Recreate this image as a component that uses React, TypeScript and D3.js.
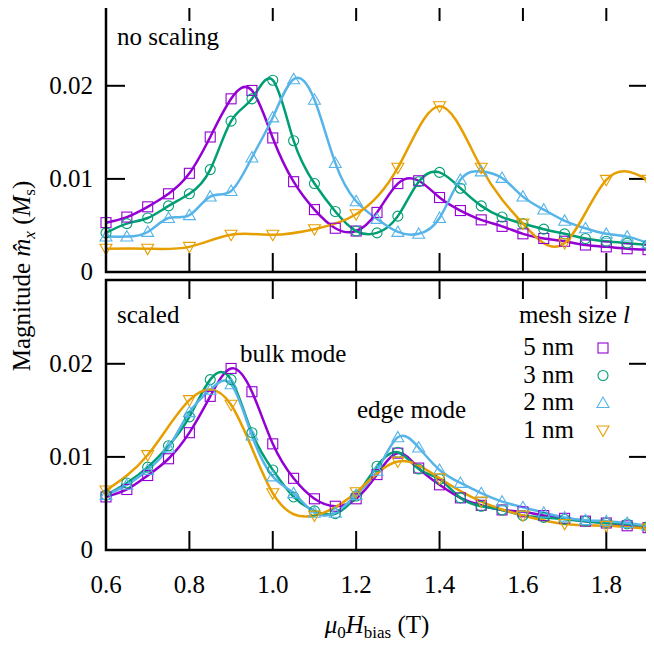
import React from "react";
import * as d3 from "d3";

// ---- data ----
const fieldDense = [0.6, 0.65, 0.7, 0.75, 0.8, 0.85, 0.9, 0.95, 1.0, 1.05, 1.1, 1.15, 1.2, 1.25, 1.3, 1.35, 1.4, 1.45, 1.5, 1.55, 1.6, 1.65, 1.7, 1.75, 1.8, 1.85, 1.9];
const fieldSparse = [0.6, 0.7, 0.8, 0.9, 1.0, 1.1, 1.2, 1.3, 1.4, 1.5, 1.6, 1.7, 1.8, 1.9];

// top panel: no scaling
const top5nm = [0.0053, 0.0059, 0.0070, 0.0084, 0.0106, 0.0145, 0.0186, 0.0195, 0.0144, 0.0097, 0.0067, 0.0047, 0.0044, 0.0064, 0.0095, 0.0098, 0.0080, 0.0066, 0.0056, 0.0049, 0.0041, 0.0036, 0.0033, 0.0029, 0.0027, 0.0025, 0.0024];
const top3nm = [0.0042, 0.0052, 0.0058, 0.0071, 0.0084, 0.0110, 0.0162, 0.0186, 0.0206, 0.0141, 0.0095, 0.0065, 0.0044, 0.0042, 0.0060, 0.0097, 0.0107, 0.0090, 0.0071, 0.0059, 0.0052, 0.0046, 0.0041, 0.0036, 0.0033, 0.0031, 0.0029];
const top2nm = [0.0038, 0.0038, 0.0043, 0.0058, 0.0061, 0.0081, 0.0087, 0.0123, 0.0166, 0.0207, 0.0185, 0.0117, 0.0076, 0.0057, 0.0043, 0.0041, 0.0058, 0.0099, 0.0108, 0.0101, 0.0081, 0.0067, 0.0055, 0.0047, 0.0041, 0.0038, 0.0031];
const top1nm = [0.0025, 0.0025, 0.0027, 0.0040, 0.0040, 0.0046, 0.0062, 0.0112, 0.0178, 0.0112, 0.0052, 0.0031, 0.0099, 0.0099];

// bottom panel: scaled
const bot5nm = [0.0057, 0.0065, 0.0080, 0.0098, 0.0126, 0.0165, 0.0195, 0.0170, 0.0114, 0.0077, 0.0055, 0.0047, 0.0055, 0.0081, 0.0104, 0.0088, 0.0070, 0.0056, 0.0048, 0.0043, 0.0041, 0.0037, 0.0034, 0.0031, 0.0029, 0.0026, 0.0024];
const bot3nm = [0.0059, 0.0072, 0.0089, 0.0112, 0.0143, 0.0183, 0.0183, 0.0126, 0.0086, 0.0057, 0.0042, 0.0039, 0.0058, 0.0090, 0.0105, 0.0087, 0.0076, 0.0056, 0.0047, 0.0043, 0.0037, 0.0035, 0.0033, 0.0031, 0.0029, 0.0028, 0.0025];
const bot2nm = [0.0059, 0.0070, 0.0086, 0.0110, 0.0148, 0.0172, 0.0178, 0.0123, 0.0079, 0.0061, 0.0040, 0.0040, 0.0059, 0.0085, 0.0121, 0.0110, 0.0086, 0.0072, 0.0061, 0.0052, 0.0046, 0.0040, 0.0035, 0.0032, 0.0031, 0.0029, 0.0026];
const bot1nm = [0.0064, 0.0102, 0.0161, 0.0156, 0.0061, 0.0037, 0.0062, 0.0095, 0.0077, 0.0052, 0.0037, 0.0028, 0.0026, 0.0023];

const seriesLabels = ["5 nm", "3 nm", "2 nm", "1 nm"];
const seriesColors = ["#9400d3", "#009e73", "#56b4e9", "#e69f00"];
const seriesShapes = ["square", "circle", "triangle", "invtriangle"];

const xTicks = [0.6, 0.8, 1.0, 1.2, 1.4, 1.6, 1.8];
const yTicks = [0, 0.01, 0.02];

// ---- layout ----
const W = 654;
const H = 648;
const FONT = "Liberation Serif";
const FS = 25;
const SUB = 17;
const left = 106;
const right = 648;
const panels = [
  { top: 2, bottom: 272, label: "no scaling", data: [top5nm, top3nm, top2nm, top1nm] },
  { top: 280, bottom: 550, label: "scaled", data: [bot5nm, bot3nm, bot2nm, bot1nm] },
];

const x = d3.scaleLinear().domain([0.6, 1.9]).range([left, right]);
const tp = { className: "cs", fontFamily: FONT, fontSize: FS };

function marker(shape: string, cx: number, cy: number, color: string, key: string) {
  const common = { fill: "none", stroke: color, strokeWidth: 1.1 };
  if (shape === "square") {
    return <rect key={key} x={cx - 5} y={cy - 5} width={10} height={10} {...common} />;
  }
  if (shape === "circle") {
    return <circle key={key} cx={cx} cy={cy} r={5} {...common} />;
  }
  const path = d3.symbol().type(d3.symbolTriangle).size(62)() as string;
  const rot = shape === "invtriangle" ? 180 : 0;
  const dy = shape === "invtriangle" ? -1 : 1;
  return <path key={key} d={path} transform={`translate(${cx},${cy + dy}) rotate(${rot})`} {...common} />;
}

function Panel({ idx }: { idx: number }) {
  const p = panels[idx];
  const y = d3.scaleLinear().domain([0, 0.029]).range([p.bottom, p.top]);
  const tick = 19;
  return (
    <g>
      {xTicks.map((t) => (
        <g key={`xt${t}`} stroke="#000" strokeWidth={2}>
          <line x1={x(t)} x2={x(t)} y1={p.bottom} y2={p.bottom - tick} />
          <line x1={x(t)} x2={x(t)} y1={p.top} y2={p.top + tick} />
        </g>
      ))}
      {yTicks.map((t) => (
        <g key={`yt${t}`} stroke="#000" strokeWidth={2}>
          <line x1={left} x2={left + tick} y1={y(t)} y2={y(t)} />
          <line x1={right} x2={right - tick} y1={y(t)} y2={y(t)} />
        </g>
      ))}
      {yTicks.map((t) => (
        <text key={`yl${t}`} x={93} y={y(t) + 8} textAnchor="end" {...tp}>
          {t === 0 ? "0" : d3.format(".2f")(t)}
        </text>
      ))}
      {p.data.map((vals, si) => {
        const xs = vals.length === fieldDense.length ? fieldDense : fieldSparse;
        const pts = xs.map((f, i) => [f, vals[i]] as [number, number]);
        const line = d3
          .line<[number, number]>()
          .x((d) => x(d[0]))
          .y((d) => y(d[1]))
          .curve(d3.curveNatural);
        return <path key={`l${si}`} d={line(pts) as string} fill="none" stroke={seriesColors[si]} strokeWidth={2.5} />;
      })}
      {p.data.map((vals, si) => {
        const xs = vals.length === fieldDense.length ? fieldDense : fieldSparse;
        return (
          <g key={`m${si}`}>
            {xs.map((f, i) => marker(seriesShapes[si], x(f), y(vals[i]), seriesColors[si], `m${si}-${i}`))}
          </g>
        );
      })}
      <rect x={left} y={p.top} width={right - left} height={p.bottom - p.top} fill="none" stroke="#000" strokeWidth={2.5} />
      <text x={117} y={p.top + 43} {...tp}>
        {p.label}
      </text>
    </g>
  );
}

export default function App() {
  const legendX = 574;
  const legendY0 = 355;
  const legendDy = 27.5;
  return (
    <svg width={W} height={H} viewBox={`0 0 ${W} ${H}`} style={{ display: "block", margin: "-8px", background: "#fff" }}>
      <style>{`.cs { font-family: "Liberation Serif", "Times New Roman", serif; }`}</style>
      <rect width={W} height={H} fill="#fff" />
      <Panel idx={0} />
      <Panel idx={1} />
      {xTicks.map((t) => (
        <text key={`xl${t}`} x={x(t)} y={593} textAnchor="middle" {...tp}>
          {d3.format(".1f")(t)}
        </text>
      ))}
      <text x={377} y={633} textAnchor="middle" {...tp}>
        <tspan fontStyle="italic">μ</tspan>
        <tspan fontSize={SUB} dy={5}>0</tspan>
        <tspan fontStyle="italic" dy={-5}>H</tspan>
        <tspan fontSize={SUB} dy={5}>bias</tspan>
        <tspan dy={-5}> (T)</tspan>
      </text>
      <text transform={`translate(30,276) rotate(-90)`} textAnchor="middle" {...tp}>
        <tspan>Magnitude </tspan>
        <tspan fontStyle="italic">m̂</tspan>
        <tspan fontStyle="italic" fontSize={SUB} dy={5}>x</tspan>
        <tspan dy={-5}> (</tspan>
        <tspan fontStyle="italic">M</tspan>
        <tspan fontSize={SUB} dy={5}>s</tspan>
        <tspan dy={-5}>)</tspan>
      </text>
      <text x={240} y={362} {...tp}>bulk mode</text>
      <text x={357} y={418} {...tp}>edge mode</text>
      <text x={630} y={323} textAnchor="end" {...tp}>
        mesh size <tspan fontStyle="italic">l</tspan>
      </text>
      {seriesLabels.map((lab, i) => (
        <g key={lab}>
          <text x={legendX} y={legendY0 + i * legendDy} textAnchor="end" {...tp}>
            {lab}
          </text>
          {marker(seriesShapes[i], 603, legendY0 + i * legendDy - 7, seriesColors[i], `lg${i}`)}
        </g>
      ))}
    </svg>
  );
}
